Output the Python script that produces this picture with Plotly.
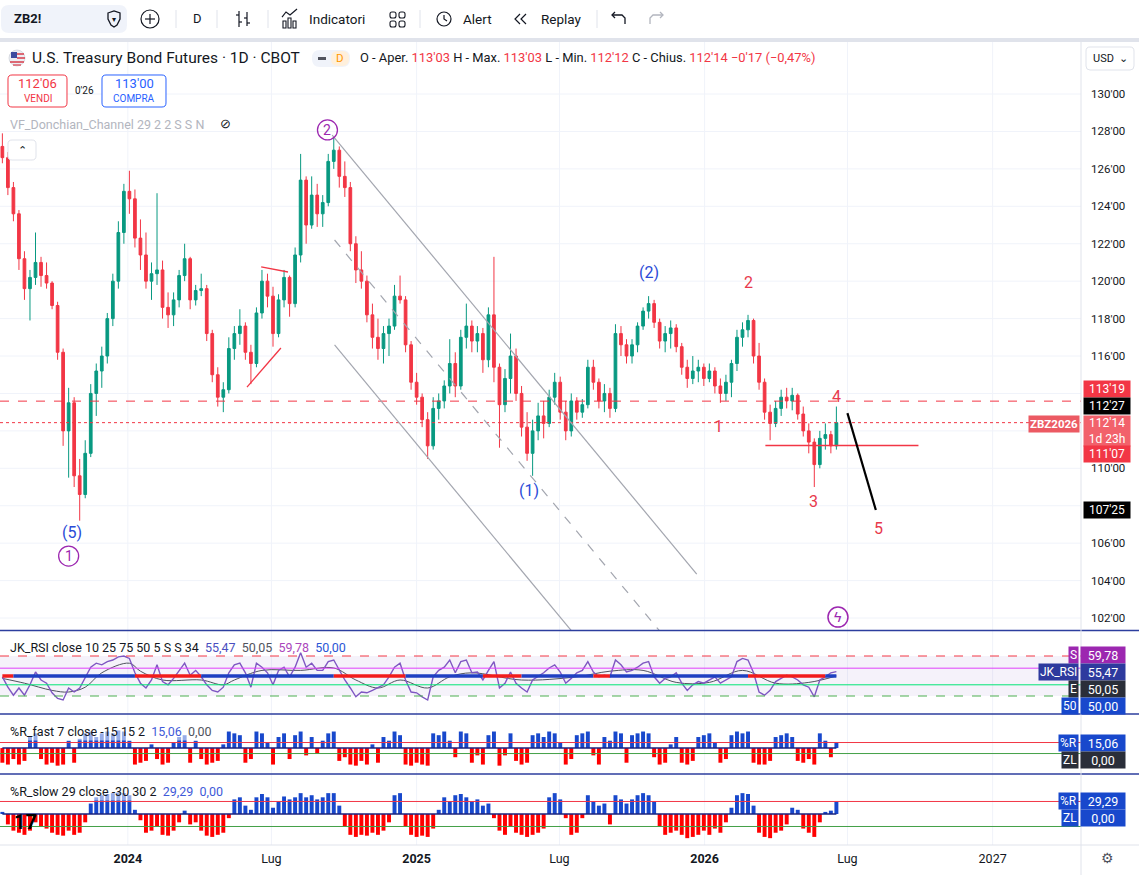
import plotly.graph_objects as go
import pandas as pd

W, H = 1139, 875
AX_R = 1081          # px where the price scale starts

UP = '#089981'
DN = '#f23645'
BLUE = '#1848cc'
TXT = '#131722'
GRID = '#f0f3fa'
LINE = '#e0e3eb'

# ---- price data (weekly bars) ----
dates = pd.date_range('2023-07-26', periods=152, freq='7D')

opens = [127.2, 126.6, 125.0, 123.6, 121.2, 119.6, 120.2, 121.0, 120.3, 119.9,
         118.7, 116.2, 112.0, 113.5, 109.6, 108.6, 110.8, 114.0, 115.2, 116.0,
         118.0, 120.0, 122.6, 124.8, 124.4, 122.3, 121.4, 120.0, 120.4, 120.6,
         118.6, 118.2, 119.0, 120.3, 121.2, 119.0, 119.5, 119.6, 117.2, 115.0,
         113.8, 114.2, 116.4, 117.2, 117.6, 116.2, 115.6, 118.3, 120.0, 119.2,
         117.2, 119.0, 120.2, 118.8, 121.4, 125.4, 123.0, 124.6, 123.6, 124.2,
         126.4, 127.0, 125.6, 125.0, 122.0, 120.6, 120.0, 118.2, 117.0, 116.4,
         117.2, 117.6, 119.2, 119.0, 116.6, 114.6, 113.8, 112.6, 111.2, 113.2,
         113.6, 114.4, 115.6, 114.4, 117.0, 117.6, 116.8, 117.2, 115.8, 118.2,
         115.4, 113.4, 114.8, 116.0, 114.0, 112.2, 110.8, 112.0, 112.8, 112.4,
         113.8, 114.6, 113.0, 112.0, 113.6, 113.0, 113.4, 115.4, 114.6, 113.6,
         114.0, 113.2, 117.2, 116.6, 116.0, 116.6, 117.6, 118.4, 118.8, 117.8,
         116.8, 117.2, 117.5, 116.5, 115.4, 114.8, 115.2, 115.4, 114.8, 115.2,
         114.4, 114.0, 114.6, 115.6, 117.0, 117.4, 117.9, 116.0, 114.6, 113.0,
         112.4, 113.2, 113.8, 113.6, 113.9, 112.9, 112.0, 111.4, 110.2, 111.6,
         111.8, 111.2]
highs = [127.9, 126.9, 125.3, 123.8, 121.6, 120.6, 122.6, 121.3, 121.0, 120.0,
         118.9, 116.4, 114.3, 113.8, 110.5, 111.5, 114.5, 115.6, 116.5, 118.3,
         120.4, 123.2, 125.2, 125.9, 124.9, 123.3, 122.6, 121.0, 124.7, 121.1,
         119.4, 119.4, 120.6, 122.0, 121.3, 119.8, 120.4, 119.8, 117.4, 115.4,
         114.6, 117.0, 117.6, 118.5, 117.8, 116.6, 118.6, 120.6, 120.4, 119.7,
         119.3, 120.6, 120.3, 121.8, 126.8, 125.6, 125.6, 125.2, 124.6, 126.8,
         127.7, 127.2, 126.4, 125.3, 122.4, 121.6, 120.3, 118.8, 118.0, 117.6,
         118.0, 119.8, 120.3, 119.2, 116.8, 115.1, 114.0, 113.0, 113.8, 114.0,
         114.7, 116.9, 116.2, 117.4, 118.8, 117.9, 117.6, 117.5, 118.6, 121.3,
         115.6, 115.3, 117.2, 116.4, 114.4, 113.0, 112.6, 113.5, 113.6, 114.2,
         115.1, 114.9, 113.6, 114.0, 113.8, 113.7, 115.8, 115.8, 114.8, 114.5,
         114.3, 117.7, 117.6, 116.9, 116.9, 117.8, 118.6, 119.2, 119.0, 118.0,
         117.6, 117.9, 117.7, 116.7, 115.8, 116.0, 115.8, 115.6, 115.6, 115.4,
         114.8, 115.0, 115.8, 117.4, 117.8, 118.2, 118.0, 116.7, 114.8, 113.4,
         113.6, 114.2, 114.3, 114.3, 114.0, 113.3, 112.4, 111.6, 112.0, 112.4,
         112.0, 113.3]
lows = [126.3, 124.6, 123.2, 120.6, 119.0, 117.9, 119.8, 119.7, 119.6, 118.5,
        115.8, 111.2, 109.5, 109.0, 107.2, 108.4, 110.6, 112.8, 114.3, 115.6,
        117.6, 119.6, 122.0, 123.6, 121.8, 120.6, 119.6, 119.0, 119.8, 118.0,
        117.5, 117.6, 118.6, 120.0, 118.5, 118.7, 119.2, 116.8, 114.6, 113.3,
        113.0, 114.0, 115.8, 116.6, 115.8, 114.5, 115.4, 118.0, 118.6, 116.5,
        117.0, 118.6, 118.1, 118.6, 121.0, 122.0, 122.8, 122.9, 122.9, 124.0,
        126.0, 125.0, 124.5, 121.6, 119.9, 119.6, 117.8, 116.4, 115.8, 115.6,
        116.0, 117.4, 118.8, 116.2, 114.2, 113.4, 112.2, 110.5, 111.0, 112.6,
        113.2, 114.0, 113.8, 114.2, 116.4, 116.2, 116.2, 115.1, 115.4, 114.6,
        111.1, 113.0, 114.0, 113.6, 111.7, 110.4, 109.6, 111.5, 111.6, 112.2,
        113.4, 112.6, 111.5, 111.7, 112.6, 112.7, 113.2, 114.2, 113.2, 113.0,
        112.7, 113.0, 116.0, 115.6, 115.6, 116.2, 117.4, 118.0, 117.5, 116.4,
        116.2, 116.4, 116.2, 115.0, 114.3, 114.5, 114.6, 114.4, 114.6, 114.0,
        113.5, 113.6, 113.8, 115.2, 116.5, 117.0, 115.6, 114.2, 112.6, 111.5,
        112.2, 112.8, 113.2, 113.1, 112.6, 111.7, 110.8, 109.0, 110.0, 111.0,
        110.8, 111.0]
closes = [126.6, 125.0, 123.6, 121.2, 119.6, 120.2, 121.0, 120.3, 119.9, 118.7,
          116.2, 112.0, 113.5, 109.6, 108.6, 110.8, 114.0, 115.2, 116.0, 118.0,
          120.0, 122.6, 124.8, 124.4, 122.3, 121.4, 120.0, 120.4, 120.6, 118.6,
          118.2, 119.0, 120.3, 121.2, 119.0, 119.5, 119.6, 117.2, 115.0, 113.8,
          114.2, 116.4, 117.2, 117.6, 116.2, 115.6, 118.3, 120.0, 119.2, 117.2,
          119.0, 120.2, 118.8, 121.4, 125.4, 123.0, 124.6, 123.6, 124.2, 126.4,
          127.0, 125.6, 125.0, 122.0, 120.6, 120.0, 118.2, 117.0, 116.4, 117.2,
          117.6, 119.2, 119.0, 116.6, 114.6, 113.8, 112.6, 111.2, 113.2, 113.6,
          114.4, 115.6, 114.4, 117.0, 117.6, 116.8, 117.2, 115.8, 118.2, 115.4,
          113.4, 114.8, 116.0, 114.0, 112.2, 110.8, 112.0, 112.8, 112.4, 113.8,
          114.6, 113.0, 112.0, 113.6, 113.0, 113.4, 115.4, 114.6, 113.6, 114.0,
          113.2, 117.2, 116.6, 116.0, 116.6, 117.6, 118.4, 118.8, 117.8, 116.8,
          117.2, 117.5, 116.5, 115.4, 114.8, 115.2, 115.4, 114.8, 115.2, 114.4,
          114.0, 114.6, 115.6, 117.0, 117.4, 117.9, 116.0, 114.6, 113.0, 112.4,
          113.2, 113.8, 113.6, 113.9, 112.9, 112.0, 111.4, 110.2, 111.6, 111.8,
          111.2, 112.44]

# ---- JK_RSI pane ----
rsi = [49, 36, 26, 35, 26, 39, 55, 45, 41, 29,
       22, 20, 35, 30, 35, 49, 61, 66, 64, 68,
       70, 74, 75, 72, 54, 41, 35, 45, 64, 43,
       39, 47, 57, 66, 51, 57, 49, 39, 32, 30,
       36, 54, 64, 66, 54, 36, 66, 61, 54, 39,
       57, 61, 49, 61, 79, 61, 66, 57, 57, 68,
       70, 57, 45, 35, 24, 30, 29, 32, 36, 39,
       49, 61, 66, 45, 30, 29, 24, 20, 49, 57,
       61, 70, 54, 68, 70, 54, 55, 45, 57, 68,
       35, 41, 55, 41, 35, 30, 45, 49, 54, 60,
       64, 55, 41, 47, 54, 57, 68, 55, 49, 51,
       49, 70, 64, 55, 57, 61, 66, 68, 49, 41,
       47, 49, 54, 41, 32, 39, 43, 41, 45, 49,
       41, 45, 49, 68, 72, 70, 54, 30, 26, 32,
       43, 47, 51, 49, 45, 39, 36, 24, 45, 49,
       54, 55.47]
rsi_sig_idx = [0, 4, 9, 12, 15, 18, 23, 25, 29, 36, 40, 42, 47, 54, 60, 64,
               68, 72, 77, 81, 85, 94, 104, 110, 116, 122, 128, 134, 140, 146, 151]
rsi_sig = [47, 41, 32, 30, 36, 54, 66, 56, 45, 45, 39, 45, 57, 57, 60, 45,
           35, 45, 35, 49, 54, 45, 49, 56, 57, 42, 42, 57, 41, 42, 50.05]
# colour of the thick 50 line: (first week, last week, colour)
mid_segments = [(0, 2, 'r'), (2, 24, 'b'), (24, 36, 'r'), (36, 60, 'b'),
                (60, 73, 'r'), (73, 87, 'b'), (87, 94, 'r'), (94, 107, 'b'),
                (107, 110, 'r'), (110, 135, 'b'), (135, 149, 'r'), (149, 151, 'b')]
rsi_levels = [75, 59.78, 39, 25]

# ---- %R panes ----
wr_fast = [-40, -45, -30, -45, -35, 30, 40, -30, -45, -40,
           -48, -45, 20, -40, 25, 40, 45, 30, 40, 45,
           40, 48, 45, 20, -45, -40, -35, 10, -30, -45,
           -40, 15, 30, 35, -40, 20, -30, -45, -40, -35,
           10, 45, 40, 35, -40, -30, 45, 40, 15, -45,
           30, 40, -30, 35, 45, -20, 30, -15, 20, 40,
           45, -35, -25, -45, -48, -35, -45, 10, -40, 30,
           20, 45, 35, -45, -48, -40, -45, -48, 40, 35,
           45, 20, -25, 45, 40, -40, -20, -45, 35, 45,
           -48, -20, 40, -35, -45, -40, 35, 40, 30, 45,
           40, 15, -45, -30, 35, 40, 45, -20, -45, 30,
           20, 45, 40, -40, 35, 40, 45, 40, -25, -45,
           -40, 10, 30, -40, -45, -35, 30, 35, 40, 15,
           -40, -30, 35, 45, 40, 45, -40, -45, -45, -35,
           30, 35, 40, 30, -35, -40, -30, -45, 40, 20,
           -25, 15.06]
wr_slow = [5, -25, -40, -45, -50, -40, -20, -30, -35, -45,
           -50, -52, -40, -50, -45, -20, 25, 40, 45, 48,
           50, 52, 50, 45, 10, -15, -45, -40, -30, -50,
           -52, -40, -20, 8, -25, -20, -40, -52, -55, -50,
           -45, -10, 35, 40, 20, 10, 40, 48, 40, 15,
           30, 42, 35, 40, 50, 40, 45, 35, 40, 50,
           50, 20, -30, -50, -55, -50, -52, -45, -50, -40,
           -20, 45, 50, -30, -50, -55, -52, -55, -35, 10,
           40, 30, 45, 48, 40, 30, 35, 20, 25, -10,
           -40, -50, -30, -45, -50, -55, -50, -45, -35, 40,
           50, 35, -10, -50, -45, -10, 45, 30, 20, 25,
           -25, 45, 35, 25, 35, 45, 50, 45, 30, -30,
           -50, -45, -40, -50, -58, -55, -50, -40, -50, -35,
           -45, -20, 15, 45, 50, 48, 20, -45, -55, -58,
           -45, -40, -25, 15, 10, -35, -45, -55, -20, 5,
           8, 29.29]
fast_levels = [15, -15]
slow_levels = [30, -30]

# ---- axes ----
x_tick_dates = ['2024-01-01', '2024-07-01', '2025-01-01', '2025-07-01',
                '2026-01-01', '2026-07-01', '2027-01-01']
x_tick_text = ['<b>2024</b>', 'Lug', '<b>2025</b>', 'Lug', '<b>2026</b>', 'Lug', '2027']
# 108, 112 and 114 sit under the price tags on the reference scale
price_ticks = [102, 104, 106, 110, 116, 118, 120, 122, 124, 126, 128, 130]
price_tick_text = ["102'00", "104'00", "106'00", "110'00", "116'00", "118'00",
                   "120'00", "122'00", "124'00", "126'00", "128'00", "130'00"]
grid_prices = [102, 104, 106, 108, 110, 112, 114, 116, 118, 120, 122, 124, 126, 128, 130]

# ---- drawings on the price pane ----
level_dash = 113.59     # 113'19
level_last = 112.44     # 112'14
channel = [('2024-09-16', 127.81, '2025-12-22', 104.35, 'solid'),
           ('2024-09-19', 116.59, '2025-08-19', 99.6, 'solid'),
           ('2024-09-19', 122.2, '2025-11-17', 100.7, 'dash')]
red_strokes = [('2024-06-18', 120.76, '2024-07-22', 120.49),
               ('2024-05-31', 114.34, '2024-07-13', 116.43),
               ('2026-03-19', 111.22, '2026-09-29', 111.22)]
wave_line = ('2026-07-01', 112.95, '2026-08-06', 107.77)

blue_labels = ['(5)', '(1)', '(2)']
blue_dates = ['2023-10-22', '2025-05-23', '2025-10-23']
blue_prices = [106.59, 108.79, 120.49]
red_labels = ['1', '2', '3', '4', '5']
red_dates = ['2026-01-18', '2026-02-25', '2026-05-19', '2026-06-17', '2026-08-09']
red_prices = [112.26, 119.95, 108.2, 113.86, 106.81]
circle_labels = ['1', '2']
circle_dates = ['2023-10-18', '2024-09-10']
circle_prices = [105.31, 128.08]


def px(x):
    return x / W


def py(y):
    return 1 - y / H


def pline(x0, y0, x1, y1, color, width=1, dash=None):
    return dict(type='line', xref='paper', yref='paper', x0=px(x0), y0=py(y0),
                x1=px(x1), y1=py(y1), line=dict(color=color, width=width, dash=dash))


def prect(x0, y0, x1, y1, fill='rgba(0,0,0,0)', line=None, lw=1):
    return dict(type='rect', xref='paper', yref='paper', x0=px(x0), y0=py(y1),
                x1=px(x1), y1=py(y0), fillcolor=fill,
                line=dict(color=line or 'rgba(0,0,0,0)', width=lw if line else 0))


def ppath(pts, color, width=1.2, closed=False, fill=None):
    d = 'M ' + ' L '.join(f'{px(a):.5f},{py(b):.5f}' for a, b in pts)
    if closed:
        d += ' Z'
    return dict(type='path', xref='paper', yref='paper', path=d,
                line=dict(color=color, width=width), fillcolor=fill or 'rgba(0,0,0,0)')


def rrect(x0, y0, x1, y1, r, fill, line=None, lw=1):
    def p(a, b):
        return f'{px(a):.5f},{py(b):.5f}'
    d = (f'M {p(x0 + r, y0)} L {p(x1 - r, y0)} Q {p(x1, y0)} {p(x1, y0 + r)} '
         f'L {p(x1, y1 - r)} Q {p(x1, y1)} {p(x1 - r, y1)} L {p(x0 + r, y1)} '
         f'Q {p(x0, y1)} {p(x0, y1 - r)} L {p(x0, y0 + r)} Q {p(x0, y0)} {p(x0 + r, y0)} Z')
    return dict(type='path', xref='paper', yref='paper', path=d, fillcolor=fill,
                line=dict(color=line or 'rgba(0,0,0,0)', width=lw if line else 0))


def text(x, y, s, size=12, color=TXT, xanchor='left', **kw):
    d = dict(x=px(x), y=py(y), xref='paper', yref='paper', text=s, showarrow=False,
             xanchor=xanchor, yanchor='middle', font=dict(size=size, color=color))
    d.update(kw)
    return d


def tag(x, y, s, bg, xanchor='left', width=None, size=12, height=14):
    d = text(x, y, s, size, 'white', xanchor, bgcolor=bg, borderpad=1, height=height)
    if width:
        d['width'] = width
    return d


fig = go.Figure()

fig.add_trace(go.Candlestick(
    x=dates, open=opens, high=highs, low=lows, close=closes,
    xaxis='x', yaxis='y', whiskerwidth=0,
    increasing=dict(line=dict(color=UP, width=1), fillcolor=UP),
    decreasing=dict(line=dict(color=DN, width=1), fillcolor=DN),
    hoverinfo='skip', showlegend=False))

# RSI pane
fig.add_trace(go.Scatter(x=[dates[i] for i in rsi_sig_idx], y=rsi_sig, yaxis='y2',
                         mode='lines', line=dict(color='#50535e', width=1, shape='spline'),
                         hoverinfo='skip'))
fig.add_trace(go.Scatter(x=dates, y=rsi, yaxis='y2', mode='lines',
                         line=dict(color='#7e57c2', width=1.4), hoverinfo='skip'))
seg_col = {'r': '#f21b1b', 'b': '#1f3fc2'}
for a, b, c in mid_segments:
    fig.add_trace(go.Scatter(x=[dates[a], dates[b]], y=[50, 50], yaxis='y2', mode='lines',
                             line=dict(color=seg_col[c], width=3.5), hoverinfo='skip'))

# %R panes
bar_w = 5 * 86400000
fig.add_trace(go.Bar(x=dates, y=wr_fast, yaxis='y3', width=bar_w,
                     marker=dict(color=[BLUE if v >= 0 else '#ff0000' for v in wr_fast],
                                 line=dict(width=0)), hoverinfo='skip'))
fig.add_trace(go.Bar(x=dates, y=wr_slow, yaxis='y4', width=bar_w,
                     marker=dict(color=[BLUE if v >= 0 else '#ff0000' for v in wr_slow],
                                 line=dict(width=0)), hoverinfo='skip'))

shapes = []
# grid: vertical through all panes, horizontal in the price pane
for d in x_tick_dates:
    shapes.append(dict(type='line', xref='x', yref='paper', x0=d, x1=d, y0=py(845), y1=py(42),
                       line=dict(color=GRID, width=1), layer='below'))
for p in grid_prices:
    shapes.append(dict(type='line', xref='paper', yref='y', x0=0, x1=px(AX_R), y0=p, y1=p,
                       line=dict(color=GRID, width=1), layer='below'))

# price pane drawings
shapes.append(dict(type='line', xref='paper', yref='y', x0=0, x1=px(AX_R), y0=level_dash,
                   y1=level_dash, line=dict(color=DN, width=1, dash='dash')))
shapes.append(dict(type='line', xref='paper', yref='y', x0=0, x1=px(AX_R), y0=level_last,
                   y1=level_last, line=dict(color=DN, width=1, dash='dot')))
for d0, p0, d1, p1, dash in channel:
    shapes.append(dict(type='line', xref='x', yref='y', x0=d0, y0=p0, x1=d1, y1=p1,
                       line=dict(color='#a3a6af', width=1.2, dash=dash)))
for d0, p0, d1, p1 in red_strokes:
    shapes.append(dict(type='line', xref='x', yref='y', x0=d0, y0=p0, x1=d1, y1=p1,
                       line=dict(color=DN, width=1.3)))
shapes.append(dict(type='line', xref='x', yref='y', x0=wave_line[0], y0=wave_line[1],
                   x1=wave_line[2], y1=wave_line[3], line=dict(color='black', width=2.2)))
for d, p in zip(circle_dates, circle_prices):
    shapes.append(dict(type='circle', xref='x', yref='y', xsizemode='pixel', ysizemode='pixel',
                       xanchor=d, yanchor=p, x0=-10, x1=10, y0=-10, y1=10,
                       line=dict(color='#9c27b0', width=1.3)))
shapes.append(dict(type='circle', xref='x', yref='y', xsizemode='pixel', ysizemode='pixel',
                   xanchor='2026-06-19', yanchor=102.05, x0=-10, x1=10, y0=-10, y1=10,
                   line=dict(color='#9c27b0', width=1.5)))

# RSI pane levels
shapes.append(dict(type='rect', xref='paper', yref='y2', x0=0, x1=px(AX_R), y0=25, y1=75,
                   fillcolor='rgba(126,87,194,0.08)', line=dict(width=0), layer='below'))
rsi_style = [('#f23645', 'dash'), ('#e040fb', None), ('#00e676', None), ('#4caf50', 'dash')]
for lv, (c, ds) in zip(rsi_levels, rsi_style):
    shapes.append(dict(type='line', xref='paper', yref='y2', x0=0, x1=px(AX_R), y0=lv, y1=lv,
                       line=dict(color=c, width=1, dash=ds)))
for yax, lv_list in (('y3', fast_levels), ('y4', slow_levels)):
    for lv, c in zip(lv_list, ('#f23645', '#43a047')):
        shapes.append(dict(type='line', xref='paper', yref=yax, x0=0, x1=px(AX_R), y0=lv, y1=lv,
                           line=dict(color=c, width=1)))
    shapes.append(dict(type='line', xref='x', yref=yax, x0=dates[0], x1=dates[-1], y0=0, y1=0,
                       line=dict(color='#1a237e', width=1.5)))

# chrome: separators, scale line, toolbar
shapes += [
    prect(0, 38, W, 42, fill=LINE),
    pline(0, 630.5, W, 630.5, '#2c3e9e', 1.5),
    pline(0, 714, W, 714, '#2c3e9e', 1.5),
    pline(0, 774, W, 774, '#2c3e9e', 1.5),
    pline(0, 845, W, 845, LINE, 1),
    pline(AX_R, 42, AX_R, H, LINE, 1),
    rrect(1, 5, 127, 33, 8, '#f0f3fa'),
    ppath([(108, 13), (114, 11), (120, 13), (120, 19), (117, 25), (114, 27), (111, 25),
           (108, 19)], TXT, 1.3, closed=True),
    dict(type='circle', xref='paper', yref='paper', x0=px(141), x1=px(159), y0=py(28),
         y1=py(10), line=dict(color=TXT, width=1.2)),
    pline(145, 19, 155, 19, TXT, 1.2), pline(150, 14, 150, 24, TXT, 1.2),
    pline(239, 11, 239, 27, TXT, 1.2), pline(236, 15, 239, 15, TXT, 1.2),
    pline(239, 22, 242, 22, TXT, 1.2), pline(247, 12, 247, 26, TXT, 1.2),
    pline(244, 18, 247, 18, TXT, 1.2), pline(247, 23, 250, 23, TXT, 1.2),
    ppath([(282, 17), (286, 12), (290, 15), (297, 9)], TXT, 1.2),
    prect(283, 21, 286, 28, line=TXT, lw=1.1), prect(288, 18, 291, 28, line=TXT, lw=1.1),
    prect(293, 21, 296, 28, line=TXT, lw=1.1),
    rrect(390, 12, 396, 18, 2, 'rgba(0,0,0,0)', TXT, 1.1),
    rrect(399, 12, 405, 18, 2, 'rgba(0,0,0,0)', TXT, 1.1),
    rrect(390, 21, 396, 27, 2, 'rgba(0,0,0,0)', TXT, 1.1),
    rrect(399, 21, 405, 27, 2, 'rgba(0,0,0,0)', TXT, 1.1),
    dict(type='circle', xref='paper', yref='paper', x0=px(437), x1=px(451), y0=py(26),
         y1=py(12), line=dict(color=TXT, width=1.2)),
    ppath([(444, 15), (444, 19), (447, 21)], TXT, 1.2),
    ppath([(520, 14), (515, 19), (520, 24)], TXT, 1.2),
    ppath([(526, 14), (521, 19), (526, 24)], TXT, 1.2),
    ppath([(625, 24), (625, 18), (622, 15), (612, 15)], TXT, 1.3),
    ppath([(615, 12), (612, 15), (615, 18)], TXT, 1.3),
    ppath([(650, 24), (650, 18), (653, 15), (663, 15)], '#b2b5be', 1.3),
    ppath([(660, 12), (663, 15), (660, 18)], '#b2b5be', 1.3),
    pline(176, 10, 176, 28, LINE), pline(217, 10, 217, 28, LINE),
    pline(268, 10, 268, 28, LINE), pline(420, 10, 420, 28, LINE),
    pline(597, 10, 597, 28, LINE),
    # header widgets
    dict(type='circle', xref='paper', yref='paper', x0=px(9), x1=px(25), y0=py(66),
         y1=py(50), fillcolor='#eceef3', line=dict(color='#d1d4dc', width=0.8)),
    pline(17, 54, 24, 54, '#d93b4a', 1.5), pline(17, 58, 25, 58, '#d93b4a', 1.5),
    pline(10, 62, 24, 62, '#d93b4a', 1.5), pline(13, 65, 21, 65, '#d93b4a', 1.2),
    prect(11, 52, 17, 58, fill='#3d4b9e'),
    rrect(312, 50, 350, 67, 8, '#f0f3fa'),
    rrect(331, 51, 349, 66, 7, '#fff0dc'),
    pline(318, 58.5, 326, 58.5, '#50535e', 3),
    rrect(8, 75, 67, 107, 4, 'white', '#f23645', 1),
    rrect(102, 75, 166, 107, 4, 'white', '#2962ff', 1),
    rrect(8, 140, 36, 160, 4, 'white', LINE, 1),
    rrect(1086, 47, 1134, 70, 4, 'white', LINE, 1),
]

annots = [
    text(12, 19, '<b>ZB2!</b>', 13),
    text(114, 19.5, '▾', 8, xanchor='center'),
    text(197, 19, 'D', 13, xanchor='center'),
    text(307, 19, 'Indicatori', 13.5),
    text(461, 19, 'Alert', 13.5),
    text(539, 19, 'Replay', 13.5),
    text(30, 58, 'U.S. Treasury Bond Futures · 1D · CBOT', 15.5),
    text(340, 58.5, 'D', 11.5, '#ff9800', 'center'),
    text(8, 125, 'VF_Donchian_Channel 29 2 2 S S N', 12.5, '#b2b5be'),
    text(225, 124, '⊘', 13, TXT, 'center'),
    text(22, 150, '⌃', 11, TXT, 'center'),
    text(37.5, 84, "112'06", 13, '#f23645', 'center'),
    text(37.5, 99, 'VENDI', 10, '#f23645', 'center'),
    text(85, 90, "0'26", 10, TXT, 'center'),
    text(134, 84, "113'00", 13, '#2962ff', 'center'),
    text(134, 99, 'COMPRA', 10, '#2962ff', 'center'),
    text(1110, 58.5, 'USD  ⌄', 11, TXT, 'center'),
    text(1107, 858, '⚙', 14, '#50535e', 'center'),
    text(25, 822, '<b>17</b>', 20, '#000000', 'center'),
]

ohlc_names = ['O - Aper.', 'H - Max.', 'L - Min.', 'C - Chius.']
ohlc_vals = ["113'03", "113'03", "112'12", "112'14"]
ohlc = ' '.join(f'{n} <span style="color:{DN}">{v}</span>' for n, v in zip(ohlc_names, ohlc_vals))
ohlc += f' <span style="color:{DN}">−0\'17 (−0,47%)</span>'
annots.append(text(358, 58, ohlc, 12.9))

# wave labels
for s, d, p in zip(blue_labels, blue_dates, blue_prices):
    annots.append(dict(x=d, y=p, xref='x', yref='y', text=s, showarrow=False,
                       font=dict(size=16, color='#2a4bd7')))
for s, d, p in zip(red_labels, red_dates, red_prices):
    annots.append(dict(x=d, y=p, xref='x', yref='y', text=s, showarrow=False,
                       font=dict(size=16, color='#e8394c')))
for s, d, p in zip(circle_labels, circle_dates, circle_prices):
    annots.append(dict(x=d, y=p, xref='x', yref='y', text=s, showarrow=False,
                       font=dict(size=14, color='#9c27b0')))
annots.append(dict(x='2026-06-19', y=102.05, xref='x', yref='y', text='ϟ', showarrow=False,
                   font=dict(size=14, color='#9c27b0')))

# price scale tags
annots += [
    tag(AX_R + 2, 389.5, "113'19", '#f23645', width=44),
    tag(AX_R + 2, 405.5, "112'27", '#000000', width=44),
    tag(AX_R + 2, 431, "112'14<br>1d 23h", '#f2616b', width=44, height=28),
    tag(AX_R + 2, 454, "111'07", '#f23645', width=44),
    tag(AX_R + 2, 510, "107'25", '#000000', width=44),
    tag(AX_R - 1, 424.5, '<b>ZBZ2026</b>', '#ec5a63', 'right', size=11.5),
]

# indicator legends
rsi_vals = [('55,47', '#4a4fc0'), ('50,05', '#50535e'), ('59,78', '#ab47bc'), ('50,00', '#2a55d6')]
s = 'JK_RSI close 10 25 75 50 5 S S 34  ' + '  '.join(
    f'<span style="color:{c}">{v}</span>' for v, c in rsi_vals)
annots.append(text(8, 647, s, 12.5))
s = '%R_fast 7 close -15 15 2  <span style="color:#3f5ad8">15,06</span>  ' \
    '<span style="color:#50535e">0,00</span>'
annots.append(text(8, 731, s, 12.5, bgcolor='rgba(255,255,255,0.55)'))
s = '%R_slow 29 close -30 30 2  <span style="color:#3f5ad8">29,29</span>  ' \
    '<span style="color:#3f5ad8">0,00</span>'
annots.append(text(8, 791, s, 12.5, bgcolor='rgba(255,255,255,0.55)'))

pane_tags = [('S', '59,78', '#9c27b0', 655), ('JK_RSI', '55,47', '#2e3a9e', 672),
             ('E', '50,05', '#2a2e39', 689), ('50', '50,00', BLUE, 706),
             ('%R', '15,06', BLUE, 743), ('ZL', '0,00', '#2a2e39', 760),
             ('%R', '29,29', BLUE, 801), ('ZL', '0,00', BLUE, 818)]
for name, val, c, yy in pane_tags:
    annots.append(tag(AX_R - 2, yy, name, c, 'right', size=12))
    annots.append(tag(AX_R - 1, yy, val, c, 'left', width=42, size=12.5))

fig.update_layout(
    width=W, height=H, margin=dict(l=0, r=0, t=0, b=0),
    paper_bgcolor='white', plot_bgcolor='white',
    font=dict(family='Roboto, sans-serif', color=TXT),
    showlegend=False, barmode='overlay', hovermode=False,
    xaxis=dict(type='date', domain=[0, px(AX_R)], range=['2023-07-23', '2027-04-23'],
               anchor='y4', showgrid=False, zeroline=False, showline=False, ticks='',
               tickvals=x_tick_dates, ticktext=x_tick_text,
               tickfont=dict(size=12.5, color=TXT), ticklabelstandoff=5,
               rangeslider=dict(visible=False), fixedrange=True),
    yaxis=dict(domain=[py(630), py(42)], range=[101.36, 132.78], side='right', anchor='x',
               tickvals=price_ticks, ticktext=price_tick_text, ticks='',
               showgrid=False, zeroline=False, showline=False,
               tickfont=dict(size=11.5, color=TXT), ticklabelstandoff=9, fixedrange=True),
    yaxis2=dict(domain=[py(713), py(631)], range=[3.75, 106.25], anchor='x',
                showticklabels=False, showgrid=False, zeroline=False, fixedrange=True),
    yaxis3=dict(domain=[py(773), py(715)], range=[-68, 90], anchor='x',
                showticklabels=False, showgrid=False, zeroline=False, fixedrange=True),
    yaxis4=dict(domain=[py(844), py(775)], range=[-72, 93.5], anchor='x',
                showticklabels=False, showgrid=False, zeroline=False, fixedrange=True),
    shapes=shapes, annotations=annots,
)

# the page's default body margin would shift the whole chart by 8px
fig.write_html('out.html', config={'displayModeBar': False},
               post_script="document.body.style.margin='0px';")
